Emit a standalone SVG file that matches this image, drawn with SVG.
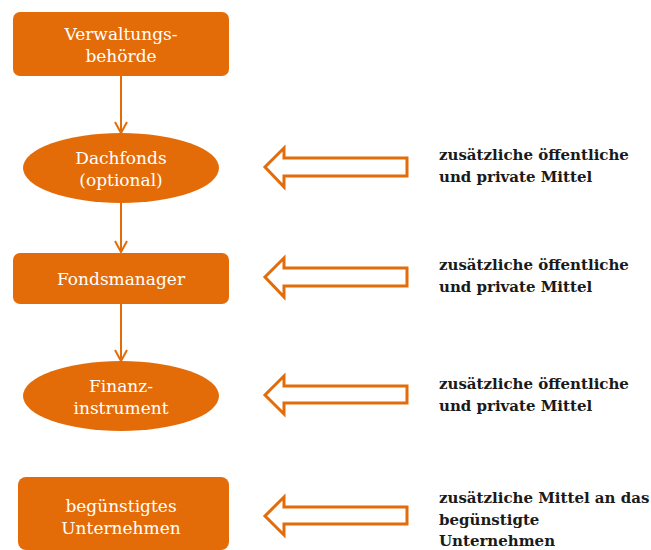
<svg xmlns="http://www.w3.org/2000/svg" width="651" height="550" viewBox="0 0 651 550">
<defs>
<style>
.node{fill:#E36C09;}
.nt{font-family:"DejaVu Serif","Liberation Serif",serif;font-size:17px;fill:#ffffff;text-anchor:middle;}
.lt{font-family:"DejaVu Serif","Liberation Serif",serif;font-size:15px;font-weight:bold;fill:#1a1a1a;}
.conn{stroke:#E36C09;stroke-width:2;fill:none;}
.hollow{stroke:#E36C09;stroke-width:3;fill:#ffffff;stroke-linejoin:miter;}
</style>
<marker id="ah" viewBox="0 0 14 14" refX="12" refY="7" markerWidth="14" markerHeight="14" markerUnits="userSpaceOnUse" orient="auto">
<path d="M1,1 L12,7 L1,13" fill="none" stroke="#E36C09" stroke-width="2"/>
</marker>
</defs>
<rect width="651" height="550" fill="#ffffff"/>
<g id="connectors">
<line class="conn" x1="121" y1="76" x2="121" y2="133" marker-end="url(#ah)"/>
<line class="conn" x1="121" y1="203" x2="121" y2="252" marker-end="url(#ah)"/>
<line class="conn" x1="121" y1="304" x2="121" y2="361" marker-end="url(#ah)"/>
</g>
<g id="verwaltungsbehoerde">
<rect class="node" x="13" y="12" width="216" height="64" rx="7"/>
<text class="nt" x="121" y="40">Verwaltungs-</text>
<text class="nt" x="121" y="62">behörde</text>
</g>
<g id="dachfonds">
<ellipse class="node" cx="121" cy="168" rx="98" ry="35"/>
<text class="nt" x="121" y="164">Dachfonds</text>
<text class="nt" x="121" y="186">(optional)</text>
</g>
<g id="fondsmanager">
<rect class="node" x="13" y="253" width="216" height="51" rx="7"/>
<text class="nt" x="121" y="285">Fondsmanager</text>
</g>
<g id="finanzinstrument">
<ellipse class="node" cx="121" cy="396" rx="98" ry="35"/>
<text class="nt" x="121" y="392">Finanz-</text>
<text class="nt" x="121" y="414">instrument</text>
</g>
<g id="unternehmen">
<rect class="node" x="18" y="477" width="211" height="73" rx="8"/>
<text class="nt" x="121" y="512">begünstigtes</text>
<text class="nt" x="121" y="534">Unternehmen</text>
</g>
<g id="mittel1">
<path class="hollow" d="M407,158 L284,158 L284,148 L265,167 L284,187 L284,176 L407,176 Z"/>
<text class="lt" x="439" y="160">zusätzliche öffentliche</text>
<text class="lt" x="439" y="182">und private Mittel</text>
</g>
<g id="mittel2">
<path class="hollow" d="M407,268 L284,268 L284,258 L265,277 L284,297 L284,286 L407,286 Z"/>
<text class="lt" x="439" y="270">zusätzliche öffentliche</text>
<text class="lt" x="439" y="292">und private Mittel</text>
</g>
<g id="mittel3">
<path class="hollow" d="M407,386 L284,386 L284,376 L265,395 L284,414 L284,403 L407,403 Z"/>
<text class="lt" x="439" y="389">zusätzliche öffentliche</text>
<text class="lt" x="439" y="411">und private Mittel</text>
</g>
<g id="mittel4">
<path class="hollow" d="M407,507 L284,507 L284,497 L265,516 L284,535 L284,524 L407,524 Z"/>
<text class="lt" x="439" y="503">zusätzliche Mittel an das</text>
<text class="lt" x="439" y="525">begünstigte</text>
<text class="lt" x="439" y="546">Unternehmen</text>
</g>
</svg>
